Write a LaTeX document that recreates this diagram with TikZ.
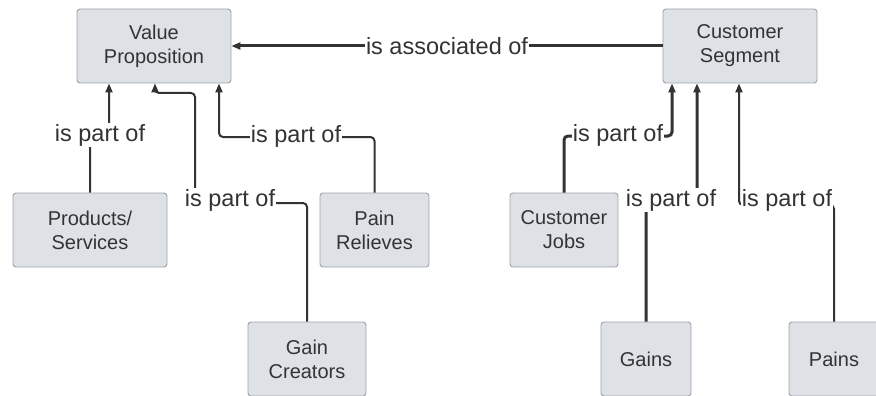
\documentclass[tikz,border=0pt]{standalone}
\usepackage{fontspec}
\setmainfont{Liberation Sans}
\usetikzlibrary{arrows.meta,calc}
\definecolor{boxfill}{HTML}{DEE2E7}
\definecolor{boxline}{HTML}{9DA3A9}
\definecolor{ink}{HTML}{333333}
\tikzset{
  x=1pt,y=-1pt,
  entity/.style={draw=boxline,line width=0.9pt,fill=boxfill,rounded corners=3pt,
    minimum width=#1,minimum height=74pt,inner sep=0pt,align=center,
    text=ink,font=\fontsize{20}{24}\selectfont},
  entity/.default=154pt,
  conn/.style={draw=ink,line width=2pt,rounded corners=4pt,
    -{Triangle[length=9pt,width=7pt]}},
  thick conn/.style={conn,line width=3pt},
  lbl/.style={fill=white,inner sep=1pt,text=ink,font=\fontsize{23.5}{28}\selectfont}
}
\begin{document}
\begin{tikzpicture}
\useasboundingbox (0,0) rectangle (876,396);
% nodes
\node[entity=154pt] (vp) at (154,46) {Value\\Proposition};
\node[entity=154pt] (cs) at (740,46) {Customer\\Segment};
\node[entity=154pt] (ps) at (90,230) {Products/\\Services};
\node[entity=109pt] (pr) at (374.5,230) {Pain\\Relieves};
\node[entity=118pt] (gc) at (307,359) {Gain\\Creators};
\node[entity=108pt] (cj) at (564,230) {Customer\\Jobs};
\node[entity=90pt] (ga) at (646,359) {Gains};
\node[entity=90pt] (pa) at (834,359) {Pains};
% connectors
\draw[thick conn] (cs.west) -- (vp.east);
\draw[conn] (ps.north) -- (90,135) -- (109,135) -- ([xshift=-45pt]vp.south);
\draw[conn] (gc.north) -- (307,203) -- (195,203) -- (195,93) -- (155,93) -- ([xshift=1pt]vp.south);
\draw[conn] (pr.north) -- (374.5,137) -- (219,137) -- ([xshift=65pt]vp.south);
\draw[thick conn] (cj.north) -- (564,136) -- (672,136) -- ([xshift=-68pt]cs.south);
\draw[thick conn] (ga.north) -- (646,200) -- (697,200) -- ([xshift=-43pt]cs.south);
\draw[conn] (pa.north) -- (834,205) -- (739,205) -- ([xshift=-1pt]cs.south);
% labels
\node[lbl] (l0) at (447,46) {is associated of};
\node[lbl] (l1) at (100,135) {is part of};
\node[lbl] (l2) at (230,200) {is part of};
\node[lbl] (l3) at (296,136) {is part of};
\node[lbl] (l4) at (618,135) {is part of};
\node[lbl] (l5) at (671,200) {is part of};
\node[lbl] (l6) at (787,200) {is part of};
\end{tikzpicture}
\end{document}
